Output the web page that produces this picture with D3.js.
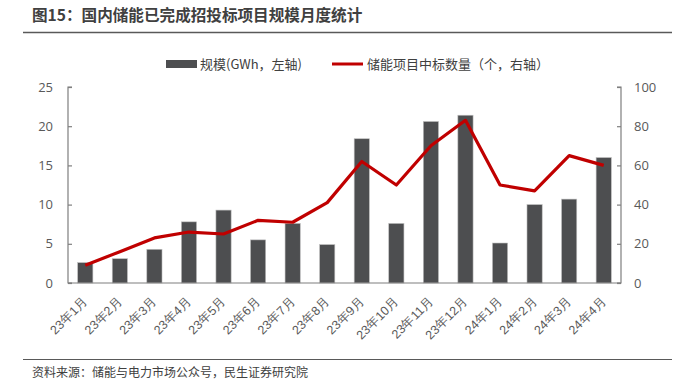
<!DOCTYPE html>
<html>
<head>
<meta charset="utf-8">
<script src="https://cdn.jsdelivr.net/npm/d3@7"></script>
<style>
  html, body { margin: 0; padding: 0; background: #fff; }
  svg { display: block; font-family: "Noto Sans CJK SC", "Noto Sans", sans-serif; }
</style>
</head>
<body>
<svg id="chart" width="678" height="386"></svg>
<script>
const months = ["23年1月", "23年2月", "23年3月", "23年4月", "23年5月", "23年6月", "23年7月", "23年8月",
  "23年9月", "23年10月", "23年11月", "23年12月", "24年1月", "24年2月", "24年3月", "24年4月"];
const scaleGWh = [2.6, 3.1, 4.3, 7.8, 9.3, 5.5, 7.6, 4.9, 18.4, 7.6, 20.6, 21.4, 5.1, 10.0, 10.7, 16.0];
const winCount = [9, 16, 23, 26, 25, 32, 31, 41, 62, 50, 70, 83, 50, 47, 65, 60];
const leftTicks = [0, 5, 10, 15, 20, 25];
const rightTicks = [0, 20, 40, 60, 80, 100];

const svg = d3.select("#chart");
const m = { l: 68, r: 621, t: 87, b: 283 };
const barColor = "#4d4e50";
const lineColor = "#c00000";
const axisColor = "#7f7f7f";
const textColor = "#595959";

// title
svg.append("text")
  .attr("x", 32).attr("y", 21)
  .attr("font-size", 15.6).attr("font-weight", "bold").attr("fill", "#404040")
  .text("图15：国内储能已完成招投标项目规模月度统计");
svg.append("line")
  .attr("x1", 23).attr("x2", 672).attr("y1", 32.5).attr("y2", 32.5)
  .attr("stroke", "#595959").attr("stroke-width", 1.5);

// footer
svg.append("line")
  .attr("x1", 23).attr("x2", 672).attr("y1", 359.5).attr("y2", 359.5)
  .attr("stroke", "#595959").attr("stroke-width", 1);
svg.append("text")
  .attr("x", 32).attr("y", 377)
  .attr("font-size", 12).attr("fill", "#404040")
  .text("资料来源：储能与电力市场公众号，民生证券研究院");

const x = d3.scaleBand().domain(months).range([m.l, m.r]).paddingInner(0.56).paddingOuter(0.28);
const yL = d3.scaleLinear().domain([0, 25]).range([m.b, m.t]);
const yR = d3.scaleLinear().domain([0, 100]).range([m.b, m.t]);

// bars
svg.append("g").selectAll("rect")
  .data(scaleGWh)
  .join("rect")
  .attr("x", (d, i) => x(months[i]))
  .attr("y", d => yL(d))
  .attr("width", x.bandwidth())
  .attr("height", d => yL(0) - yL(d))
  .attr("fill", barColor)
  .attr("stroke", "#bfbfbf").attr("stroke-width", 0.6);

// line
const line = d3.line()
  .x((d, i) => x(months[i]) + x.bandwidth() / 2)
  .y(d => yR(d));
svg.append("path")
  .datum(winCount)
  .attr("fill", "none")
  .attr("stroke", lineColor)
  .attr("stroke-width", 3.2)
  .attr("stroke-linejoin", "round")
  .attr("d", line);

// axes
const gL = svg.append("g").attr("transform", `translate(${m.l},0)`)
  .call(d3.axisRight(yL).tickValues(leftTicks).tickSize(4).tickFormat(d3.format("d")));
gL.selectAll("text").attr("x", -15).attr("text-anchor", "end");
const gR = svg.append("g").attr("transform", `translate(${m.r},0)`)
  .call(d3.axisLeft(yR).tickValues(rightTicks).tickSize(4).tickFormat(d3.format("d")));
gR.selectAll("text").attr("x", 13).attr("text-anchor", "start");
[gL, gR].forEach(g => {
  g.select(".domain").attr("stroke", axisColor).attr("stroke-width", 1.2);
  g.selectAll(".tick line").attr("stroke", axisColor).attr("stroke-width", 1.2);
  g.selectAll("text").attr("fill", textColor).attr("font-size", 13)
    .attr("font-family", "'Open Sans', 'Noto Sans', sans-serif");
});
gL.select(".domain").attr("d", `M4,${m.t}H0V${m.b}H4`);
gR.select(".domain").attr("d", `M-4,${m.t}H0V${m.b}H-4`);

const gX = svg.append("g").attr("transform", `translate(0,${m.b})`)
  .call(d3.axisBottom(x).tickSize(0));
gX.select(".domain").attr("stroke", axisColor).attr("stroke-width", 1.2).attr("d", `M${m.l},0H${m.r}`);
gX.selectAll("text")
  .attr("fill", textColor).attr("font-size", 12.5)
  .attr("text-anchor", "end")
  .attr("dy", 0)
  .attr("transform", "translate(1,17) rotate(-45)");

// legend
const lg = svg.append("g").attr("font-size", 13).attr("fill", "#404040");
lg.append("rect").attr("x", 166).attr("y", 60).attr("width", 31).attr("height", 8).attr("fill", barColor);
lg.append("text").attr("x", 200).attr("y", 69).text("规模(GWh，左轴)");
lg.append("line").attr("x1", 332).attr("x2", 363).attr("y1", 64).attr("y2", 64)
  .attr("stroke", lineColor).attr("stroke-width", 3);
lg.append("text").attr("x", 367).attr("y", 69).text("储能项目中标数量（个，右轴）");
</script>
</body>
</html>
